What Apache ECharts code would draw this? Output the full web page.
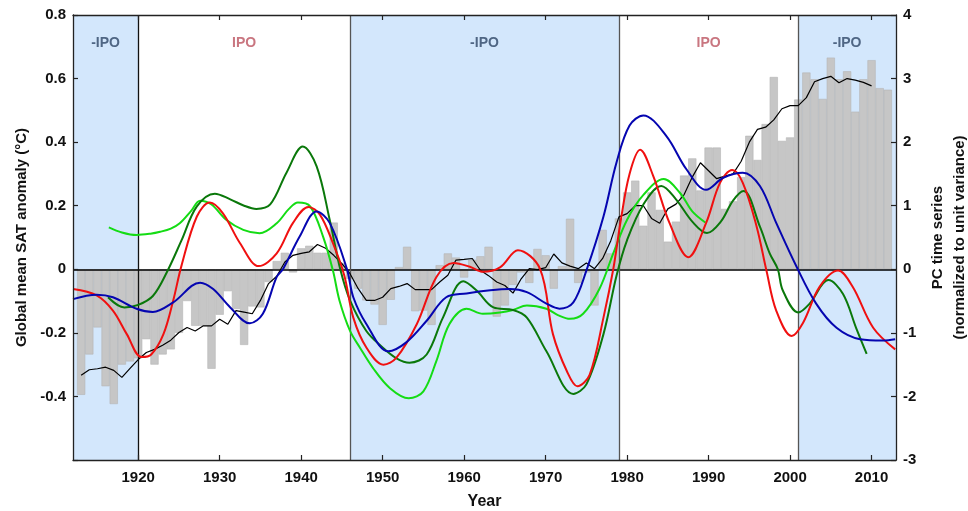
<!DOCTYPE html>
<html>
<head>
<meta charset="utf-8">
<script src="https://cdn.jsdelivr.net/npm/echarts@6/dist/echarts.min.js"></script>
<style>html,body{margin:0;padding:0;background:#fff}#c{width:968px;height:511px}</style>
</head>
<body>
<div id="c"></div>
<script>
// ---- Data ----
const xTickYears = [1920, 1930, 1940, 1950, 1960, 1970, 1980, 1990, 2000, 2010];
const barStartYear = 1913;
// annual global mean SAT anomaly (°C), 1913-2012
const satAnnual = [
 -0.395,-0.268,-0.183,-0.368,-0.424,-0.30,-0.29,-0.28,-0.22,-0.30,
 -0.268,-0.252,-0.20,-0.10,-0.178,-0.178,-0.313,-0.143,-0.069,-0.125,
 -0.238,-0.117,-0.12,-0.04,0.026,0.052,-0.01,0.066,0.074,0.052,
 0.052,0.147,0.02,-0.03,-0.061,-0.098,-0.111,-0.175,-0.096,0.007,
 0.071,-0.132,-0.13,-0.175,0.013,0.05,0.037,-0.026,0.03,0.041,
 0.071,-0.149,-0.114,-0.049,-0.01,-0.043,0.064,0.044,-0.061,0.01,
 0.159,-0.043,-0.01,-0.114,0.124,0.05,0.16,0.242,0.279,0.137,
 0.242,0.187,0.087,0.150,0.295,0.349,0.248,0.383,0.383,0.19,
 0.214,0.29,0.42,0.344,0.457,0.605,0.404,0.415,0.534,0.619,
 0.598,0.536,0.666,0.598,0.623,0.496,0.598,0.658,0.57,0.565
];
// running mean (°C), 1913-2010
const satSmooth = [
 -0.333,-0.316,-0.313,-0.308,-0.318,-0.34,-0.312,-0.284,-0.262,-0.252,
 -0.239,-0.223,-0.199,-0.183,-0.194,-0.178,-0.178,-0.157,-0.173,-0.13,
 -0.135,-0.14,-0.098,-0.045,-0.022,0.023,0.044,0.05,0.055,0.078,
 0.066,0.044,0.018,-0.014,-0.061,-0.098,-0.098,-0.088,-0.061,-0.054,
 -0.045,-0.064,-0.064,-0.064,-0.040,-0.019,0.029,0.031,0.034,-0.003,
 -0.02,-0.04,-0.051,-0.075,-0.03,0.002,-0.001,0.005,0.048,0.02,
 0.01,0.002,0.02,0.002,0.034,0.09,0.165,0.175,0.2,0.2,
 0.16,0.145,0.19,0.205,0.235,0.29,0.335,0.31,0.285,0.293,
 0.30,0.34,0.40,0.44,0.447,0.47,0.505,0.515,0.515,0.54,
 0.59,0.6,0.607,0.587,0.6,0.595,0.588,0.577
];
// PC time series (normalized), [year, value]
const pcLime = [
 [1916.4,0.66],[1918,0.58],[1919.8,0.54],[1921.5,0.56],[1922.7,0.59],[1924,0.64],[1925.1,0.725],
 [1926.5,0.92],[1927.6,1.08],[1929,1.02],[1930.8,0.78],[1932.9,0.62],[1934.9,0.567],[1937,0.725],
 [1938.5,0.95],[1939.6,1.05],[1941.1,0.99],[1942.7,0.51],[1943.9,-0.02],[1944.7,-0.49],[1946,-0.97],
 [1947.2,-1.23],[1948.8,-1.55],[1950.9,-1.87],[1953.2,-2.03],[1955,-1.92],[1956.6,-1.44],[1958.2,-0.86],
 [1960.3,-0.62],[1962.3,-0.70],[1964.4,-0.68],[1966,-0.64],[1967.7,-0.57],[1970.1,-0.62],[1971.5,-0.72],
 [1973,-0.78],[1974.6,-0.70],[1976.6,-0.31],[1978.3,0.25],[1980,0.78],[1982,1.17],[1984.5,1.42],
 [1986.5,1.2],[1988,0.91],[1989.6,0.735]
];
const pcDarkGreen = [
 [1916.3,-0.44],[1918.3,-0.60],[1920,-0.56],[1921.8,-0.42],[1923.5,-0.05],[1925.3,0.45],[1927.2,0.99],
 [1929.4,1.19],[1931.3,1.10],[1933,1.0],[1934.5,0.95],[1936.2,1.02],[1938.2,1.52],[1940.2,1.93],
 [1941.9,1.62],[1943.5,0.78],[1944.8,0.0],[1946,-0.49],[1948,-0.97],[1950,-1.23],[1951.7,-1.40],
 [1953.3,-1.47],[1955.4,-1.34],[1957.4,-0.76],[1959.9,-0.19],[1961.5,-0.33],[1963.6,-0.6],[1966,-0.64],
 [1967.7,-0.76],[1970.1,-1.29],[1973.4,-1.96],[1975,-1.81],[1977.1,-1.02],[1978.7,-0.1],[1980,0.46],
 [1982,1.02],[1984.2,1.31],[1986,1.1],[1988,0.75],[1989.8,0.57],[1991.5,0.75],[1993,1.08],[1994.3,1.23],
 [1996.3,0.67],[1997.5,0.25],[1998.5,0.0],[1999.1,-0.33],[2001,-0.68],[2002.4,-0.54],[2004.7,-0.17],
 [2006.5,-0.39],[2008.1,-0.92],[2009.4,-1.33]
];
const pcRed = [
 [1912,-0.31],[1914.9,-0.41],[1916.9,-0.65],[1918.6,-1.02],[1920.4,-1.38],[1921.6,-1.34],[1923.1,-1.02],
 [1924.3,-0.49],[1925.3,0.05],[1927.2,0.83],[1928.8,1.05],[1930.4,0.88],[1932.5,0.41],[1934.8,0.05],
 [1937,0.25],[1939,0.73],[1940.9,0.98],[1942.3,0.86],[1943.9,0.41],[1945.3,-0.1],[1946.4,-0.76],
 [1948,-1.23],[1950.1,-1.50],[1951.7,-1.39],[1954.2,-0.86],[1956.6,-0.12],[1958.7,0.1],[1960.7,0.04],
 [1962.3,-0.04],[1964.4,0.03],[1966.6,0.30],[1969.3,0.01],[1970.9,-1.02],[1972.6,-1.60],[1973.9,-1.84],
 [1975.4,-1.66],[1977.1,-0.76],[1978.3,0.0],[1979.2,0.75],[1980.3,1.5],[1981.6,1.88],[1983.2,1.47],
 [1985.2,0.73],[1987.5,0.19],[1989.7,0.73],[1991.4,1.36],[1992.9,1.56],[1994.2,1.36],[1995.9,0.67],
 [1997.1,-0.02],[1998.3,-0.65],[2000.2,-1.05],[2001.6,-0.84],[2003.6,-0.28],[2005.9,-0.02],[2007.7,-0.28],
 [2010.2,-0.92],[2012.9,-1.26]
];
const pcBlue = [
 [1912,-0.47],[1914.9,-0.40],[1916.9,-0.44],[1919.8,-0.62],[1921.8,-0.67],[1924.3,-0.52],[1927.6,-0.21],
 [1929.2,-0.31],[1931.3,-0.6],[1933.7,-0.85],[1935.3,-0.70],[1937,-0.12],[1937.8,0.01],[1939.8,0.51],
 [1941.9,0.91],[1943.5,0.73],[1945.6,0.01],[1946.4,-0.44],[1948,-0.86],[1950.7,-1.29],[1952.9,-1.15],
 [1955.4,-0.81],[1957.8,-0.44],[1960.3,-0.38],[1963.2,-0.33],[1965.6,-0.31],[1967.7,-0.36],[1970.1,-0.54],
 [1971.7,-0.62],[1973.4,-0.52],[1975,-0.02],[1977.1,0.83],[1978.7,1.68],[1980.3,2.26],[1982,2.42],
 [1984.8,2.10],[1987.3,1.57],[1989.7,1.25],[1991.8,1.44],[1994.2,1.52],[1996.3,1.31],[1998.3,0.73],
 [2000.8,0.04],[2003.2,-0.54],[2005.7,-0.92],[2008.6,-1.10],[2011.4,-1.12],[2012.9,-1.10]
];
// IPO phases
const phases = [
 {from:1912, to:1920, name:'-IPO'},
 {from:1920, to:1946, name:'IPO'},
 {from:1946, to:1979, name:'-IPO'},
 {from:1979, to:2001, name:'IPO'},
 {from:2001, to:2013, name:'-IPO'}
];
const phaseBoundaries = [1920, 1946, 1979, 2001];

// ---- Chart ----
const FONT = 'Liberation Sans, Arial, Helvetica, sans-serif';
const chart = echarts.init(document.getElementById('c'), null, {renderer:'canvas'});
const barData = satAnnual.map((v,i)=>[barStartYear+i, v]);
const smoothData = satSmooth.map((v,i)=>[barStartYear+i, v]);

const areaData = phases.map(p => {
  const neg = p.name === '-IPO';
  return [{
    xAxis: p.from, name: p.name,
    itemStyle: {color: neg ? '#d3e7fc' : 'rgba(255,255,255,0)', borderWidth:0},
    label: {color: neg ? '#4f6684' : '#c97680'}
  }, {xAxis: p.to}];
});

const lineSeries = (data, color) => ({
  type:'line', yAxisIndex:1, data, smooth:0.35, showSymbol:false, symbol:'none',
  lineStyle:{color, width:2}, z:6, silent:true, animation:false
});

const axisLineStyle = {color:'#222', width:1.3};
chart.setOption({
  animation:false,
  grid:{left:73, right:72, top:15, bottom:51, containLabel:false, outerBoundsMode:'none'},
  xAxis:[{
    type:'value', min:1912, max:2013, position:'bottom', z:10,
    name:'Year', nameLocation:'middle', nameGap:34,
    nameTextStyle:{fontFamily:FONT, fontWeight:'bold', fontSize:16, color:'#111'},
    axisLine:{show:true, onZero:false, lineStyle:axisLineStyle},
    axisTick:{show:true, inside:true, length:5, customValues:xTickYears, lineStyle:{color:'#222', width:1.2}},
    axisLabel:{customValues:xTickYears, formatter:v => String(v), fontFamily:FONT, fontWeight:'bold', fontSize:15, color:'#111', margin:10},
    splitLine:{show:false}
  },{
    type:'value', min:1912, max:2013, position:'top', z:10,
    axisLine:{show:true, onZero:false, lineStyle:axisLineStyle},
    axisTick:{show:true, inside:true, length:5, customValues:xTickYears, lineStyle:{color:'#222', width:1.2}},
    axisLabel:{show:false}, splitLine:{show:false}
  }],
  yAxis:[{
    type:'value', min:-0.6, max:0.8, interval:0.2, position:'left', z:10,
    name:'Global mean SAT anomaly (°C)', nameLocation:'middle', nameGap:44, nameRotate:90,
    nameTextStyle:{fontFamily:FONT, fontWeight:'bold', fontSize:15, color:'#111'},
    axisLine:{show:true, onZero:false, lineStyle:axisLineStyle},
    axisTick:{show:true, inside:true, length:5, lineStyle:{color:'#222', width:1.2}},
    axisLabel:{fontFamily:FONT, fontWeight:'bold', fontSize:15, color:'#111', margin:7,
      formatter:v => Math.abs(v+0.6)<1e-6 ? '' : String(Math.round(v*10)/10)},
    splitLine:{show:false}
  },{
    type:'value', min:-3, max:4, interval:1, position:'right', z:10,
    name:'PC time series\n(normalized to unit variance)', nameLocation:'middle', nameGap:30, nameRotate:90,
    nameTextStyle:{fontFamily:FONT, fontWeight:'bold', fontSize:15, color:'#111', lineHeight:22},
    axisLine:{show:true, onZero:false, lineStyle:axisLineStyle},
    axisTick:{show:true, inside:true, length:5, lineStyle:{color:'#222', width:1.2}},
    axisLabel:{fontFamily:FONT, fontWeight:'bold', fontSize:15, color:'#111', margin:7},
    splitLine:{show:false}
  }],
  series:[
    { // IPO phase shading
      type:'line', data:[], z:1, silent:true,
      markArea:{silent:true, z:1,
        label:{show:true, position:'insideTop', distance:21, fontFamily:FONT, fontWeight:'bold', fontSize:14},
        data: areaData}
    },
    {
      type:'bar', data:barData, barWidth:8.2, z:2, silent:true,
      itemStyle:{color:'#c6c6c6', borderColor:'#b5b5b5', borderWidth:0.6}
    },
    { // reference lines
      type:'line', data:[], z:4, silent:true,
      markLine:{silent:true, symbol:['none','none'], label:{show:false}, z:4,
        data:[
          {yAxis:0, lineStyle:{color:'#000', width:1.5, type:'solid'}},
          ...phaseBoundaries.map((b,i)=>({xAxis:b, lineStyle:{color: i===0 ? '#111' : '#555', width:1.3, type:'solid'}}))
        ]}
    },
    {
      type:'line', data:smoothData, smooth:false, showSymbol:false, symbol:'none',
      lineStyle:{color:'#000', width:1.2}, z:5, silent:true
    },
    lineSeries(pcLime, '#14dc14'),
    lineSeries(pcDarkGreen, '#0a780a'),
    lineSeries(pcRed, '#f01010'),
    lineSeries(pcBlue, '#0505b0')
  ]
});
</script>
</body>
</html>
